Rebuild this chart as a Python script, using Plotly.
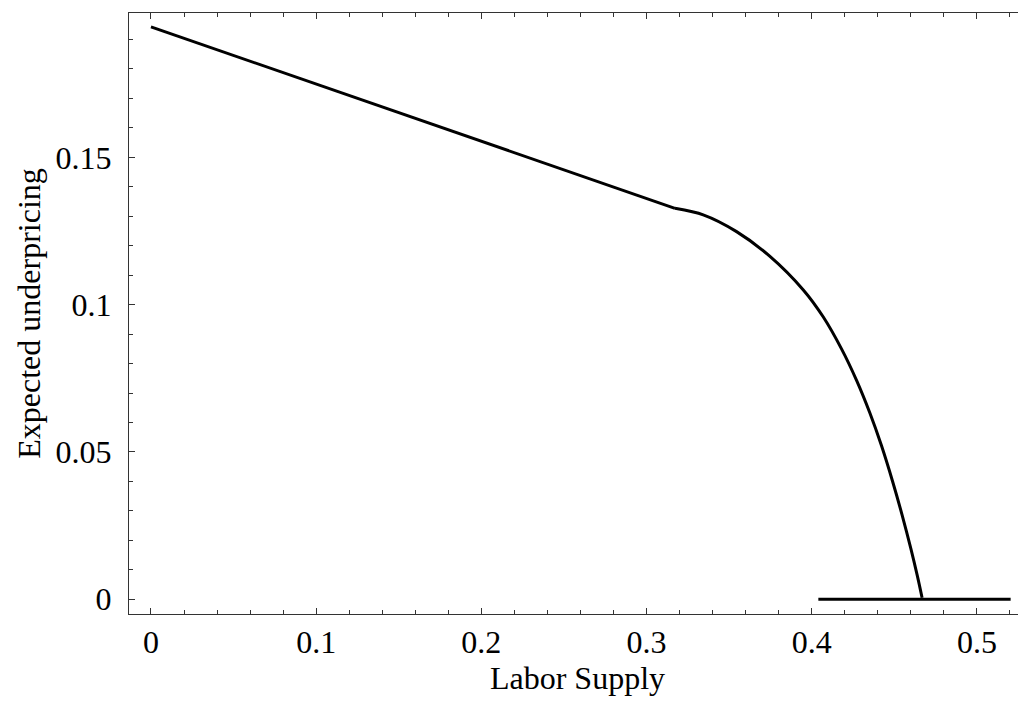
import plotly.graph_objects as go

# straight part, curved part, and the flat part at zero
line_x = [0.0, 0.3172]
line_y = [0.1943, 0.1327]

curve_x = [0.3172, 0.3343, 0.3545, 0.3747, 0.3949, 0.4070, 0.4181, 0.4272,
           0.4352, 0.4423, 0.4490, 0.4548, 0.4600, 0.4639, 0.4668]
curve_y = [0.1327, 0.1305, 0.1248, 0.1164, 0.1050, 0.0958, 0.0849, 0.0742,
           0.0632, 0.0520, 0.0399, 0.0284, 0.0172, 0.0080, 0.0005]

flat_x = [0.404, 0.5204]
flat_y = [0.0, 0.0]

x_ticks = [0, 0.1, 0.2, 0.3, 0.4, 0.5]
x_labels = ["0", "0.1", "0.2", "0.3", "0.4", "0.5"]
y_ticks = [0, 0.05, 0.1, 0.15]
y_labels = ["0", "0.05", "0.1", "0.15"]

fig = go.Figure()

for xs, ys, shape in [(line_x, line_y, "linear"),
                      (curve_x, curve_y, "spline"),
                      (flat_x, flat_y, "linear")]:
    fig.add_trace(go.Scatter(
        x=xs, y=ys, mode="lines",
        line=dict(color="black", width=3, shape=shape, smoothing=0.8),
        showlegend=False,
    ))

serif = "Liberation Serif"

axis_style = dict(
    showgrid=False, zeroline=False, automargin=False,
    showline=True, linecolor="#333", linewidth=1, mirror="ticks",
    ticks="inside", ticklen=6, tickwidth=1, tickcolor="#333",
    tickfont=dict(family=serif, size=32, color="black"),
)

# the page body adds an 8px offset, so the figure is a bit smaller
fig.update_layout(
    width=1018, height=696,
    paper_bgcolor="white", plot_bgcolor="white",
    margin=dict(l=121, r=0, t=5, b=90),
    font=dict(family=serif, size=32, color="black"),
    xaxis=dict(
        range=[-0.0133, 0.5297],
        tickvals=x_ticks, ticktext=x_labels,
        minor=dict(dtick=0.02, ticks="inside", ticklen=4, tickcolor="#333"),
        title=dict(text="Labor Supply", standoff=6,
                   font=dict(family=serif, size=32)),
        **axis_style,
    ),
    yaxis=dict(
        range=[-0.005, 0.199],
        tickvals=y_ticks, ticktext=y_labels,
        minor=dict(dtick=0.01, ticks="inside", ticklen=4, tickcolor="#333"),
        title=dict(text="Expected underpricing", standoff=5,
                   font=dict(family=serif, size=32)),
        ticklabelstandoff=10,
        **axis_style,
    ),
)

fig.write_html("out.html")
